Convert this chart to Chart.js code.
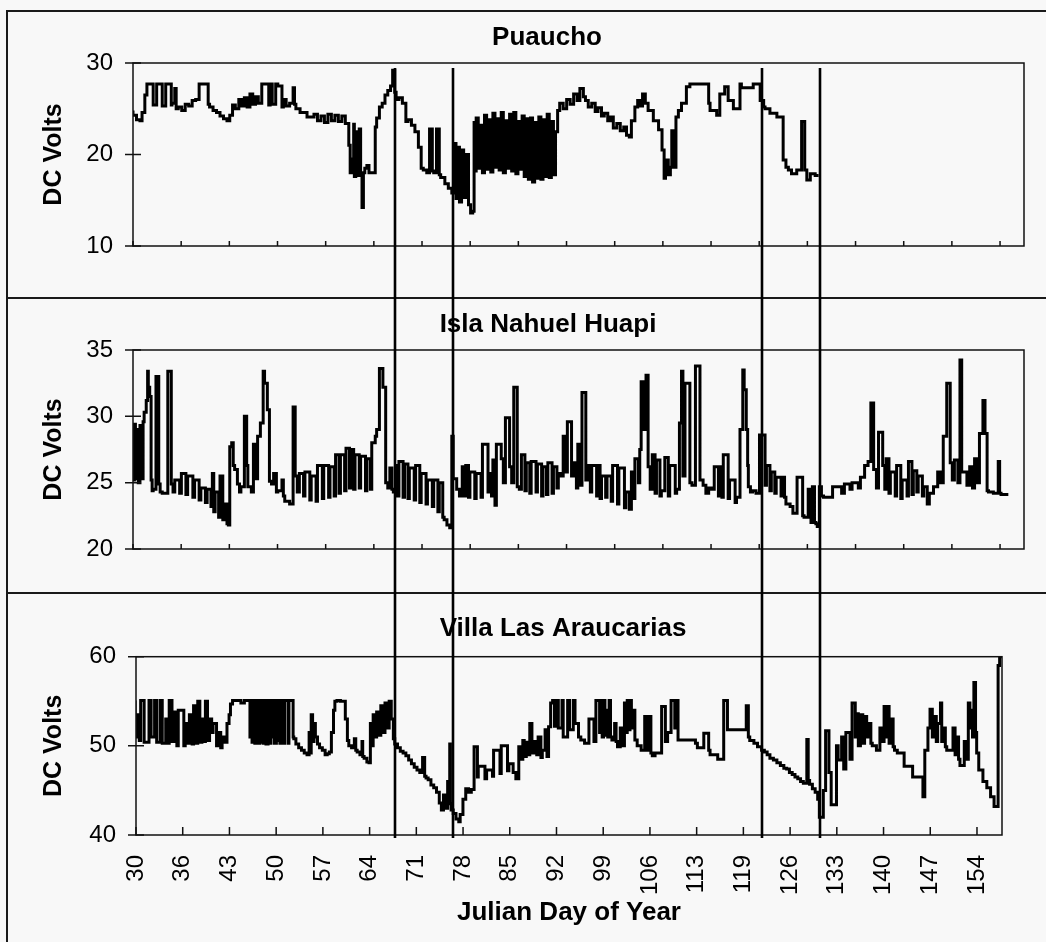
<!DOCTYPE html>
<html>
<head>
<meta charset="utf-8">
<script src="https://cdn.jsdelivr.net/npm/chart.js@4.4.1/dist/chart.umd.min.js"></script>
<style>
html, body { margin: 0; padding: 0; background: #f8f8f8; overflow: hidden; }
#fig { position: relative; width: 1046px; height: 942px; overflow: hidden; }
#fig canvas { position: absolute; left: 0; }
.rule { position: absolute; background: #1a1a1a; }
</style>
</head>
<body>
<div id="fig">
  <div class="rule" style="left:6px;top:10px;width:1040px;height:2px"></div>
  <div class="rule" style="left:6px;top:10px;width:2px;height:932px"></div>
  <div class="rule" style="left:6px;top:297px;width:1040px;height:2px"></div>
  <div class="rule" style="left:6px;top:592px;width:1040px;height:2px"></div>
  <canvas id="puauchoChart" width="1094" height="298" style="top:0"></canvas>
  <canvas id="islaChart" width="1096" height="295" style="top:298px"></canvas>
  <canvas id="villaChart" width="1126" height="349" style="top:593px"></canvas>
</div>
<script>
// Julian day tick labels (same for every panel, only the bottom one shows them)
var dayTickLabels = ['30', '36', '43', '50', '57', '64', '71', '78', '85', '92',
    '99', '106', '113', '119', '126', '133', '140', '147', '154'];

// days of the four vertical marker lines
var eventDays = [67.64, 75.97, 120.32, 128.7];

// [day, DC volts]; each reading holds until the next one
var puaucho = [
    [30.0, 24.8], [30.5, 24.3], [31.0, 23.8], [31.3, 23.7], [31.7, 24.6], [32.0, 26.5], [32.3, 27.7], [32.9, 27.7],
    [33.0, 25.4], [33.4, 25.4], [33.5, 27.7], [34.2, 27.7], [34.3, 25.3], [34.7, 25.3], [34.8, 27.7], [35.5, 27.7],
    [35.6, 25.4], [36.0, 25.6], [36.2, 27.2], [36.5, 25.0], [37.0, 25.2], [37.5, 24.8], [38.0, 25.5], [38.5, 25.3],
    [39.0, 25.9], [39.5, 26.0], [39.7, 27.7], [40.8, 27.7], [41.0, 25.5], [41.5, 25.2], [42.0, 24.8], [42.5, 24.6],
    [43.0, 24.2], [43.5, 23.9], [43.9, 23.7], [44.3, 24.3], [44.7, 25.4], [45.2, 25.0], [45.6, 26.0], [46.0, 25.3],
    [46.4, 26.2], [46.8, 25.2], [47.2, 26.6], [47.6, 25.5], [48.0, 26.3], [48.5, 25.6], [48.8, 27.7], [49.5, 27.7],
    [49.7, 25.4], [50.0, 27.7], [50.5, 25.5], [50.8, 27.7], [51.4, 27.5], [51.6, 25.2], [52.0, 26.0], [52.5, 25.3],
    [53.0, 25.6], [53.2, 27.3], [53.4, 25.5], [54.0, 25.0], [55.0, 24.6], [56.0, 24.1], [56.5, 24.4], [57.0, 23.7],
    [57.5, 24.2], [58.0, 23.5], [58.5, 24.4], [59.0, 23.7], [59.5, 24.3], [60.0, 23.6], [60.5, 24.2], [61.0, 23.4],
    [61.2, 21.0], [61.4, 18.0], [61.7, 19.5], [61.8, 23.3], [62.0, 17.6], [62.3, 22.5], [62.5, 17.7], [62.7, 22.8],
    [62.9, 18.0], [63.1, 14.2], [63.3, 18.0], [63.6, 18.5], [63.9, 18.8], [64.2, 18.0], [64.5, 18.0], [64.8, 18.0],
    [65.0, 23.0], [65.4, 24.0], [65.8, 25.2], [66.2, 25.6], [66.6, 26.5], [67.0, 27.0], [67.3, 27.5], [67.6, 29.2],
    [67.8, 26.8], [68.2, 26.0], [68.7, 26.2], [69.2, 25.6], [69.5, 23.6], [70.0, 23.8], [70.5, 23.2], [71.0, 22.5],
    [71.4, 20.8], [71.7, 18.5], [72.2, 18.3], [72.6, 18.0], [73.0, 22.8], [73.2, 18.2], [73.6, 18.0], [74.0, 22.8],
    [74.2, 17.8], [74.8, 17.5], [75.3, 16.8], [75.8, 16.3], [76.1, 15.8], [76.4, 21.2], [76.6, 15.2], [76.9, 20.8],
    [77.2, 14.8], [77.5, 20.5], [77.8, 15.3], [78.2, 20.0], [78.5, 14.5], [78.8, 13.6], [79.0, 13.8], [79.1, 23.5],
    [79.3, 18.2], [79.6, 24.0], [79.9, 18.5], [80.2, 23.2], [80.5, 18.0], [80.8, 24.3], [81.1, 18.4], [81.4, 23.8],
    [81.7, 18.1], [82.0, 24.5], [82.3, 18.6], [82.6, 23.9], [82.9, 18.3], [83.2, 24.6], [83.5, 18.0], [83.8, 23.7],
    [84.1, 18.5], [84.4, 24.4], [84.7, 18.2], [85.0, 24.6], [85.3, 17.9], [85.6, 23.6], [85.9, 18.4], [86.2, 24.2],
    [86.5, 17.6], [86.8, 23.9], [87.1, 17.3], [87.4, 24.0], [87.7, 17.0], [88.0, 23.5], [88.3, 17.4], [88.6, 24.1],
    [88.9, 17.3], [89.2, 23.8], [89.5, 17.6], [89.8, 24.4], [90.1, 17.5], [90.4, 23.6], [90.7, 17.8], [91.0, 22.5],
    [91.3, 24.8], [91.8, 25.6], [92.3, 25.0], [92.8, 26.0], [93.3, 25.5], [93.8, 26.6], [94.2, 25.9], [94.7, 27.2],
    [95.0, 26.3], [95.4, 25.9], [95.9, 25.2], [96.4, 25.6], [96.8, 24.7], [97.3, 25.1], [97.7, 24.2], [98.2, 24.5],
    [98.6, 23.7], [99.0, 24.1], [99.5, 22.9], [100.0, 23.4], [100.5, 22.6], [100.9, 23.0], [101.3, 22.1], [101.6, 21.9],
    [102.1, 23.7], [102.5, 25.2], [102.8, 25.9], [103.2, 25.3], [103.6, 26.6], [104.0, 25.6], [104.75, 24.8], [105.5, 23.7],
    [106.0, 22.7], [106.3, 20.5], [106.5, 17.4], [106.9, 19.4], [107.2, 17.8], [107.4, 18.6], [107.8, 22.6], [108.0, 18.6],
    [108.35, 24.1], [108.8, 24.8], [109.5, 25.6], [110.0, 27.4], [110.3, 27.7], [112.7, 27.7], [112.9, 25.6], [113.85, 24.8],
    [114.3, 24.3], [115.0, 26.6], [115.5, 27.4], [116.25, 25.9], [117.2, 25.0], [117.4, 27.7], [119.1, 27.3], [120.1, 27.7],
    [120.6, 25.9], [120.8, 25.2], [121.5, 25.0], [122.5, 24.5], [123.4, 24.1], [123.8, 19.4], [124.15, 18.6], [124.6, 18.3],
    [125.35, 17.9], [126.05, 18.3], [126.5, 23.6], [126.8, 18.3], [127.3, 17.2], [128.0, 17.9], [128.5, 17.7]
];

var islaNahuelHuapi = [
    [30.0, 29.5], [30.2, 25.2], [30.35, 29.4], [30.6, 25.3], [30.75, 29.0], [31.0, 25.0], [31.15, 29.3], [31.45, 25.3],
    [31.6, 29.6], [31.9, 30.3], [32.1, 31.2], [32.2, 33.4], [32.4, 32.2], [32.6, 31.5], [32.75, 25.2], [32.9, 24.4],
    [33.3, 24.5], [33.7, 33.0], [33.9, 24.9], [34.2, 24.3], [35.0, 24.2], [35.5, 33.4], [35.75, 24.9], [36.0, 24.3],
    [36.7, 25.2], [36.95, 24.2], [37.6, 25.7], [37.85, 24.1], [38.6, 25.5], [38.85, 23.9], [39.5, 25.2], [39.75, 23.7],
    [40.4, 24.6], [40.65, 23.5], [41.2, 24.5], [41.4, 23.2], [41.6, 25.7], [41.8, 22.8], [42.3, 24.3], [42.5, 22.4],
    [42.9, 25.5], [43.1, 22.2], [43.5, 23.4], [43.7, 21.9], [43.9, 21.8], [44.18, 27.7], [44.4, 28.0], [44.6, 26.3],
    [45.0, 26.0], [45.3, 24.9], [45.5, 24.3], [46.0, 24.7], [46.33, 30.0], [46.5, 26.3], [47.0, 24.7], [47.3, 24.3],
    [47.6, 27.9], [47.9, 25.3], [48.3, 28.5], [48.7, 29.5], [48.9, 33.4], [49.3, 32.5], [49.6, 30.5], [49.9, 25.1],
    [50.2, 24.9], [50.6, 25.7], [50.8, 24.3], [51.4, 24.4], [51.6, 25.2], [51.8, 24.0], [52.5, 23.6], [53.0, 23.4],
    [53.3, 30.7], [53.6, 25.5], [53.9, 24.3], [54.5, 25.7], [54.7, 24.0], [55.4, 25.8], [55.6, 23.7], [56.3, 25.5],
    [56.5, 23.6], [57.2, 26.3], [57.4, 23.8], [58.1, 26.3], [58.3, 23.9], [58.9, 26.2], [59.1, 24.0], [59.6, 27.1],
    [59.8, 24.2], [60.4, 27.1], [60.6, 24.4], [61.1, 27.6], [61.3, 24.6], [61.7, 27.5], [61.9, 24.5], [62.5, 27.1],
    [62.7, 24.6], [63.4, 27.0], [63.6, 24.4], [64.1, 26.8], [64.3, 24.5], [64.8, 28.0], [65.0, 28.5], [65.4, 29.0],
    [65.9, 33.6], [66.3, 32.2], [66.6, 25.0], [66.9, 24.6], [67.2, 26.1], [67.4, 24.5], [67.8, 24.3], [68.0, 26.3],
    [68.2, 24.0], [68.8, 26.6], [69.0, 23.9], [69.5, 26.4], [69.7, 23.8], [70.4, 26.1], [70.6, 23.7], [71.2, 26.3],
    [71.4, 23.5], [72.1, 25.7], [72.3, 23.4], [73.0, 25.2], [73.2, 23.2], [73.8, 25.2], [74.0, 22.8], [74.5, 25.0],
    [74.7, 22.4], [75.1, 22.2], [75.5, 21.8], [75.8, 21.6], [76.0, 28.5], [76.5, 25.3], [76.9, 24.5], [77.3, 24.0],
    [77.6, 26.2], [77.8, 24.0], [78.2, 26.3], [78.4, 23.9], [79.1, 25.8], [79.3, 23.8], [80.0, 25.7], [80.2, 23.9],
    [81.0, 27.9], [81.2, 24.3], [81.5, 25.7], [81.7, 24.0], [82.0, 26.7], [82.2, 23.3], [82.9, 27.9], [83.2, 26.8],
    [83.5, 25.0], [84.1, 29.9], [84.4, 26.2], [84.7, 25.0], [85.2, 32.2], [85.5, 24.7], [85.8, 24.5], [86.3, 27.1],
    [86.5, 24.4], [87.0, 26.5], [87.2, 24.2], [87.9, 26.6], [88.1, 24.3], [88.7, 26.4], [88.9, 24.0], [89.4, 26.2],
    [89.6, 24.1], [90.2, 26.5], [90.4, 24.2], [90.9, 26.2], [91.1, 24.6], [91.4, 25.7], [91.8, 25.5], [92.06, 28.5],
    [92.4, 25.8], [93.0, 29.6], [93.3, 25.5], [93.7, 26.5], [93.9, 24.6], [94.2, 27.9], [94.5, 24.8], [95.05, 31.8],
    [95.4, 25.2], [95.7, 26.3], [95.9, 24.3], [96.6, 26.3], [96.8, 24.0], [97.1, 26.3], [97.3, 23.8], [97.9, 25.5],
    [98.1, 23.9], [98.7, 25.5], [98.9, 23.6], [99.6, 26.3], [99.8, 23.4], [100.6, 26.1], [100.8, 23.1], [101.3, 24.3],
    [101.6, 23.0], [101.9, 25.8], [102.1, 23.8], [102.6, 26.8], [102.8, 25.0], [103.0, 27.5], [103.3, 32.6], [103.7, 29.0],
    [104.0, 33.1], [104.3, 26.2], [104.6, 24.5], [105.0, 27.1], [105.2, 24.2], [105.7, 26.7], [105.9, 24.0], [106.4, 24.4],
    [106.9, 26.9], [107.1, 24.0], [107.9, 26.3], [108.1, 24.2], [108.5, 24.5], [108.8, 29.5], [109.0, 33.4], [109.3, 25.5],
    [110.0, 32.5], [110.3, 25.0], [110.8, 24.8], [111.45, 33.8], [111.9, 25.2], [112.3, 24.8], [112.7, 24.2], [113.1, 24.6],
    [113.5, 24.5], [114.1, 26.2], [114.3, 24.0], [114.6, 26.2], [114.8, 23.9], [115.5, 27.1], [115.7, 23.8], [116.5, 25.2],
    [116.7, 23.5], [117.2, 23.9], [117.6, 29.0], [117.8, 33.5], [118.1, 32.0], [118.3, 29.0], [118.4, 26.3], [118.7, 24.7],
    [119.0, 24.3], [119.5, 24.4], [120.0, 24.2], [120.8, 28.6], [121.0, 24.8], [121.5, 26.3], [121.7, 24.4], [122.2, 25.8],
    [122.4, 24.2], [123.1, 25.4], [123.3, 24.0], [123.6, 25.4], [123.8, 23.9], [124.4, 23.4], [124.8, 23.2], [125.4, 22.7],
    [126.2, 25.4], [126.4, 22.5], [127.0, 22.4], [127.4, 24.5], [127.6, 22.0], [127.9, 24.7], [128.1, 22.0], [128.3, 21.9],
    [128.6, 21.7], [128.9, 24.7], [129.2, 24.0], [130.5, 23.9], [131.8, 24.7], [132.2, 24.2], [133.0, 24.9], [133.3, 24.5],
    [134.2, 25.0], [134.5, 24.6], [135.1, 25.4], [135.6, 26.3], [136.0, 26.6], [136.4, 31.0], [136.8, 26.0], [137.1, 24.6],
    [137.7, 28.8], [138.0, 26.3], [138.2, 24.5], [138.6, 26.8], [138.8, 24.2], [139.5, 25.8], [139.7, 24.0], [140.3, 26.3],
    [140.5, 23.8], [141.2, 25.2], [141.4, 24.0], [141.9, 26.6], [142.1, 24.1], [142.6, 25.9], [142.8, 24.3], [143.4, 25.5],
    [143.6, 24.0], [144.1, 24.7], [144.4, 23.4], [145.0, 24.2], [145.6, 24.7], [146.0, 25.8], [146.4, 25.0], [146.9, 28.5],
    [147.4, 32.5], [147.7, 26.5], [148.0, 25.2], [148.5, 26.7], [148.8, 25.0], [149.05, 34.25], [149.8, 25.8], [150.2, 24.8],
    [150.6, 26.2], [150.9, 24.6], [151.3, 26.8], [151.6, 25.0], [152.1, 28.7], [152.4, 31.2], [152.7, 28.7], [152.9, 24.4],
    [153.6, 24.3], [154.3, 24.2], [154.5, 26.6], [154.7, 24.2], [155.0, 24.1], [155.75, 24.1]
];

var villaLasAraucarias = [
    [30.3, 55.1], [30.6, 51.0], [30.9, 53.5], [31.1, 50.6], [31.6, 55.1], [32.3, 50.4], [32.6, 55.1], [33.1, 51.0],
    [33.4, 55.1], [33.9, 50.4], [34.2, 55.1], [34.7, 50.3], [35.0, 53.0], [35.2, 50.3], [35.6, 55.1], [36.0, 50.5],
    [36.3, 53.8], [36.5, 50.0], [37.3, 54.0], [37.5, 50.0], [37.9, 52.5], [38.1, 50.3], [38.5, 53.5], [38.7, 50.2],
    [39.0, 54.5], [39.3, 50.3], [39.6, 55.0], [39.9, 50.4], [40.2, 53.0], [40.4, 50.5], [40.7, 55.0], [41.0, 50.6],
    [41.3, 53.0], [41.5, 51.5], [42.0, 52.5], [42.2, 50.0], [42.6, 51.5], [42.8, 49.8], [43.2, 51.0], [43.5, 50.4],
    [43.8, 52.5], [44.0, 53.5], [44.3, 54.7], [44.6, 55.1], [45.5, 55.1], [46.0, 54.8], [46.5, 55.1], [46.8, 55.1],
    [47.0, 51.0], [47.1, 55.1], [47.4, 50.4], [47.5, 55.1], [47.8, 50.3], [47.9, 55.1], [48.2, 50.3], [48.3, 55.1],
    [48.6, 50.4], [48.7, 55.1], [49.0, 50.3], [49.1, 55.1], [49.4, 50.2], [49.5, 55.1], [49.8, 50.3], [49.9, 55.1],
    [50.2, 51.0], [50.3, 55.1], [50.6, 50.3], [50.7, 55.1], [51.0, 50.6], [51.1, 55.1], [51.4, 50.3], [51.5, 55.1],
    [51.8, 50.3], [51.9, 55.1], [52.3, 55.1], [52.4, 50.3], [52.6, 55.1], [53.0, 55.1], [53.1, 51.0], [53.4, 50.8],
    [53.8, 50.2], [54.2, 49.8], [54.6, 49.5], [55.0, 49.2], [55.3, 49.0], [55.5, 51.5], [55.6, 49.2], [55.8, 53.5],
    [56.0, 50.5], [56.2, 52.5], [56.5, 51.0], [56.8, 50.2], [57.2, 49.8], [57.6, 49.5], [57.9, 49.0], [58.2, 49.1],
    [58.5, 49.3], [58.8, 51.5], [59.0, 54.0], [59.3, 55.0], [59.8, 55.1], [60.5, 55.0], [60.8, 53.0], [61.0, 50.6],
    [61.4, 50.0], [61.8, 49.8], [62.0, 50.8], [62.2, 49.5], [62.6, 49.3], [62.9, 49.0], [63.0, 50.5], [63.2, 48.8],
    [63.6, 48.6], [63.9, 48.2], [64.1, 48.1], [64.3, 52.5], [64.5, 50.0], [64.8, 53.5], [65.0, 51.0], [65.3, 53.8],
    [65.6, 51.2], [65.9, 54.5], [66.2, 51.5], [66.5, 54.8], [66.8, 52.0], [67.1, 55.0], [67.4, 53.0], [67.6, 50.8],
    [68.0, 50.2], [68.4, 49.8], [68.8, 49.4], [69.2, 49.2], [69.6, 48.9], [70.0, 48.4], [70.4, 48.0], [70.8, 47.6],
    [71.2, 47.3], [71.6, 47.0], [71.9, 48.7], [72.1, 46.6], [72.4, 46.4], [72.8, 46.2], [73.2, 45.6], [73.6, 45.3],
    [74.0, 44.8], [74.3, 43.6], [74.6, 42.8], [74.9, 44.5], [75.2, 43.0], [75.5, 46.0], [75.6, 50.2], [75.7, 43.5],
    [76.0, 42.8], [76.4, 42.4], [76.8, 41.8], [77.0, 41.5], [77.4, 42.3], [77.8, 44.0], [78.2, 45.2], [78.6, 44.8],
    [79.0, 45.1], [79.48, 49.9], [79.6, 46.5], [80.56, 47.7], [80.8, 46.3], [81.64, 47.3], [81.8, 46.6], [82.72, 49.5],
    [82.9, 46.9], [83.8, 50.0], [84.0, 47.2], [84.61, 48.0], [85.0, 47.0], [85.42, 46.3], [85.69, 49.9], [86.0, 48.5],
    [86.2, 50.6], [86.5, 48.8], [86.77, 50.4], [87.0, 49.0], [87.31, 52.5], [87.6, 49.2], [88.0, 50.5], [88.2, 49.0],
    [88.6, 51.0], [88.8, 48.7], [89.2, 49.5], [89.47, 51.8], [89.7, 48.8], [90.0, 52.15], [90.28, 54.8], [90.55, 55.1],
    [90.9, 52.2], [91.1, 55.1], [91.63, 52.0], [91.8, 55.1], [92.44, 51.0], [92.71, 55.1], [93.25, 51.8], [93.5, 55.1],
    [94.0, 52.5], [94.33, 51.0], [94.87, 50.65], [95.5, 50.3], [96.22, 53.0], [96.5, 50.5], [97.03, 55.1], [97.2, 51.5],
    [97.4, 55.1], [97.6, 51.0], [97.8, 55.1], [98.0, 51.2], [98.2, 54.0], [98.4, 51.0], [98.6, 55.1], [98.8, 51.0],
    [99.19, 50.65], [99.4, 52.5], [99.6, 50.5], [100.0, 49.9], [100.4, 52.0], [100.6, 50.0], [100.81, 54.8], [101.0, 51.5],
    [101.2, 55.1], [101.4, 51.8], [101.6, 55.1], [101.8, 52.0], [102.1, 54.0], [102.43, 50.65], [103.0, 50.0], [103.51, 49.5],
    [103.8, 53.3], [104.0, 49.5], [104.4, 53.3], [104.6, 49.2], [105.0, 48.9], [105.94, 49.2], [106.48, 54.4], [106.8, 50.5],
    [107.3, 51.5], [107.83, 55.1], [108.0, 52.0], [108.3, 55.1], [110.8, 50.65], [111.08, 50.3], [112.0, 49.8], [112.7, 51.4],
    [112.9, 49.5], [114.0, 49.0], [114.86, 48.5], [115.4, 55.1], [118.1, 51.8], [118.4, 54.5], [118.6, 51.0], [119.2, 50.6],
    [119.72, 50.3], [120.3, 49.9], [120.7, 49.5], [121.1, 49.3], [121.5, 49.0], [122.0, 48.6], [122.5, 48.4], [123.0, 48.1],
    [123.5, 47.8], [123.9, 47.5], [124.3, 47.4], [124.7, 47.0], [125.1, 46.8], [125.5, 46.5], [125.9, 46.3], [126.3, 46.0],
    [126.8, 45.8], [127.0, 50.7], [127.2, 46.1], [127.6, 45.7], [128.0, 45.2], [128.36, 44.8], [128.6, 44.0], [129.17, 42.0],
    [129.5, 45.0], [129.98, 51.7], [130.3, 47.0], [131.06, 43.4], [131.3, 50.0], [131.8, 48.4], [132.1, 51.0], [132.41, 47.4],
    [133.0, 51.5], [133.3, 48.5], [133.76, 54.8], [134.0, 51.0], [134.2, 53.6], [134.5, 50.0], [134.84, 53.5], [135.1, 50.3],
    [135.4, 53.3], [135.6, 51.0], [136.0, 52.5], [136.2, 50.3], [136.8, 50.0], [137.3, 49.5], [137.7, 52.0], [137.9, 50.5],
    [138.3, 54.4], [138.5, 51.0], [138.62, 54.4], [138.8, 50.3], [139.2, 53.0], [139.4, 49.9], [139.8, 49.5], [140.78, 49.2],
    [142.0, 47.7], [143.48, 46.5], [143.75, 44.3], [144.2, 49.5], [144.5, 52.0], [144.83, 54.1], [145.1, 51.0], [145.4, 53.3],
    [145.6, 50.5], [146.0, 52.5], [146.18, 54.8], [146.4, 50.5], [146.7, 52.0], [146.9, 49.9], [147.8, 49.5], [148.1, 52.0],
    [148.3, 49.0], [148.6, 51.0], [148.8, 48.5], [149.42, 47.8], [149.7, 50.5], [150.0, 48.5], [150.23, 54.8], [150.4, 52.0],
    [150.6, 54.0], [150.8, 51.0], [151.04, 57.1], [151.2, 51.5], [151.5, 49.2], [152.1, 47.3], [152.66, 46.0], [153.2, 45.3],
    [153.7, 44.3], [154.28, 43.2], [154.5, 59.0], [154.82, 60.0]
];

var FONT = "'Liberation Sans', Arial, sans-serif";

// plot frame, cross tick marks and the marker lines through all panels
var panelFrame = {
    id: 'panelFrame',
    afterDatasetsDraw: function (chart, args, opts) {
        var ctx = chart.ctx, a = chart.chartArea;
        var x = chart.scales.x, y = chart.scales.y;
        ctx.save();
        ctx.strokeStyle = '#111';
        ctx.lineWidth = 1.5;
        ctx.strokeRect(a.left, a.top, a.right - a.left, a.bottom - a.top);
        ctx.beginPath();
        y.ticks.forEach(function (t) {
            var py = y.getPixelForValue(t.value);
            ctx.moveTo(a.left - 8, py);
            ctx.lineTo(a.left + 8, py);
        });
        x.ticks.forEach(function (t) {
            var px = x.getPixelForValue(t.value);
            ctx.moveTo(px, a.bottom);
            ctx.lineTo(px, a.bottom - opts.tickIn);
        });
        ctx.stroke();
        ctx.lineWidth = 2.6;
        ctx.strokeStyle = '#000';
        ctx.beginPath();
        var y1 = opts.fromArea ? a.top + 5 : 0;
        var y2 = opts.toArea ? a.bottom + 3 : chart.height;
        eventDays.forEach(function (d) {
            var px = Math.round(x.getPixelForValue(d));
            ctx.moveTo(px, y1);
            ctx.lineTo(px, y2);
        });
        ctx.stroke();
        ctx.restore();
    }
};

function makePanel(id, series, o) {
    return new Chart(document.getElementById(id), {
        type: 'line',
        data: {
            datasets: [{
                data: series.map(function (p) { return { x: p[0], y: p[1] }; }),
                borderColor: '#000',
                borderWidth: 3,
                stepped: 'after',
                pointRadius: 0,
                tension: 0
            }]
        },
        options: {
            responsive: false,
            animation: false,
            events: [],
            layout: { padding: 0 },
            plugins: {
                legend: { display: false },
                tooltip: { enabled: false },
                title: {
                    display: true,
                    text: o.title,
                    color: '#000',
                    font: { family: FONT, size: 26, weight: 'bold' },
                    padding: { top: o.titleTop, bottom: o.titleBottom }
                },
                panelFrame: { fromArea: o.fromArea, toArea: o.toArea, tickIn: o.tickIn }
            },
            scales: {
                x: {
                    type: 'linear',
                    min: o.xMin,
                    max: o.xMax,
                    grid: { display: false, drawTicks: false },
                    border: { display: false },
                    afterBuildTicks: function (s) {
                        s.ticks = dayTickLabels.map(function (_, i) { return { value: o.xMin + i * o.xStep }; });
                    },
                    ticks: {
                        display: o.showDays,
                        autoSkip: false,
                        minRotation: 90,
                        maxRotation: 90,
                        padding: 20,
                        color: '#000',
                        font: { family: FONT, size: 24 },
                        callback: function (v, i) { return dayTickLabels[i]; }
                    },
                    title: {
                        display: o.showDays,
                        text: 'Julian Day of Year',
                        color: '#000',
                        font: { family: FONT, size: 26, weight: 'bold' },
                        padding: { top: 0, bottom: 14 }
                    },
                    afterFit: function (s) { s.height = o.xHeight; }
                },
                y: {
                    min: o.yMin,
                    max: o.yMax,
                    grid: { display: false, drawTicks: false },
                    border: { display: false },
                    ticks: {
                        stepSize: o.yStep,
                        padding: 20,
                        color: '#000',
                        font: { family: FONT, size: 24 }
                    },
                    title: {
                        display: true,
                        text: 'DC Volts',
                        color: '#000',
                        font: { family: FONT, size: 25, weight: 'bold' },
                        padding: { top: 39, bottom: 0 }
                    },
                    afterFit: function (s) { s.width = o.yWidth; }
                },
                pad: {
                    type: 'linear',
                    position: 'right',
                    grid: { display: false, drawTicks: false },
                    border: { display: false },
                    ticks: { display: false },
                    afterFit: function (s) { s.width = o.padRight; }
                }
            }
        },
        plugins: [panelFrame]
    });
}

makePanel('puauchoChart', puaucho, {
    title: 'Puaucho', titleTop: 22.4, titleBottom: 9.4,
    xMin: 30, xMax: 158, xStep: 6.92, xHeight: 52, showDays: false,
    yMin: 10, yMax: 30, yStep: 10, yWidth: 133, padRight: 70,
    fromArea: true, toArea: false, tickIn: 5
});

makePanel('islaChart', islaNahuelHuapi, {
    title: 'Isla Nahuel Huapi', titleTop: 11.4, titleBottom: 9.4,
    xMin: 30, xMax: 158, xStep: 6.92, xHeight: 44, showDays: false,
    yMin: 20, yMax: 35, yStep: 5, yWidth: 133, padRight: 72,
    fromArea: false, toArea: false, tickIn: 5
});

makePanel('villaChart', villaLasAraucarias, {
    title: 'Villa Las Araucarias', titleTop: 20.4, titleBottom: 12.1,
    xMin: 30.43, xMax: 154.84, xStep: 6.712, xHeight: 107, showDays: true,
    yMin: 40, yMax: 60, yStep: 10, yWidth: 136, padRight: 124,
    fromArea: false, toArea: true, tickIn: 8
});
</script>
</body>
</html>
